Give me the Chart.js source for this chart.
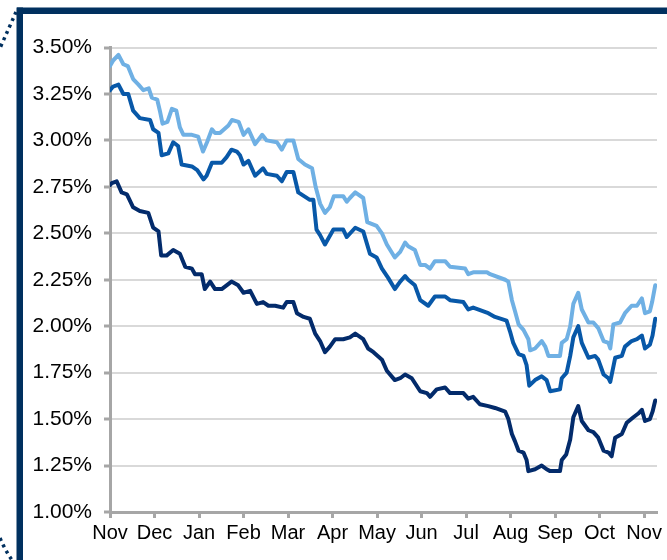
<!DOCTYPE html>
<html>
<head>
<meta charset="utf-8">
<script src="https://cdn.jsdelivr.net/npm/chart.js@4"></script>
<style>
  html, body { margin: 0; padding: 0; background: #fff; }
  #wrap { width: 667px; height: 560px; position: relative; }
</style>
</head>
<body>
<div id="wrap"><canvas id="chart"></canvas></div>
<script>
'use strict';

// month ticks, Nov through the following Nov
const monthLabels = ['Nov', 'Dec', 'Jan', 'Feb', 'Mar', 'Apr', 'May', 'Jun', 'Jul', 'Aug', 'Sep', 'Oct', 'Nov'];
const rateTicks = [1.00, 1.25, 1.50, 1.75, 2.00, 2.25, 2.50, 2.75, 3.00, 3.25, 3.50];

// light blue series: time in months since start, rate in %
const lightMonths = [0, 0.07, 0.19, 0.30, 0.40, 0.52, 0.64, 0.75, 0.87, 0.94, 1.06, 1.12, 1.18, 1.29, 1.39, 1.49, 1.57, 1.65, 1.84, 1.98,
  2.09, 2.18, 2.29, 2.36, 2.47, 2.66, 2.74, 2.89, 3.00, 3.11, 3.26, 3.42, 3.52, 3.75, 3.86, 3.97, 4.12, 4.23, 4.38, 4.54,
  4.62, 4.72, 4.83, 4.94, 5.03, 5.24, 5.32, 5.39, 5.51, 5.69, 5.78, 5.99, 6.11, 6.22, 6.40, 6.52, 6.63, 6.70, 6.85, 6.97,
  7.08, 7.19, 7.30, 7.53, 7.64, 7.98, 8.05, 8.16, 8.47, 8.54, 8.88, 8.95, 9.03, 9.10, 9.18, 9.29, 9.40, 9.44, 9.55, 9.70,
  9.78, 9.85, 10.11, 10.15, 10.26, 10.34, 10.41, 10.52, 10.60, 10.75, 10.86, 10.97, 11.09, 11.20, 11.24, 11.31, 11.46, 11.57, 11.72, 11.84,
  11.95, 12.02, 12.13, 12.18, 12.25];
const lightRates = [3.40, 3.43, 3.46, 3.41, 3.40, 3.33, 3.30, 3.27, 3.28, 3.23, 3.22, 3.16, 3.09, 3.10, 3.17, 3.16, 3.07, 3.03, 3.03, 3.02,
  2.94, 2.99, 3.06, 3.04, 3.04, 3.08, 3.11, 3.10, 3.03, 3.06, 2.98, 3.03, 3.00, 2.99, 2.95, 3.00, 3.00, 2.90, 2.87, 2.85,
  2.75, 2.66, 2.61, 2.64, 2.70, 2.70, 2.67, 2.69, 2.72, 2.69, 2.56, 2.54, 2.50, 2.44, 2.37, 2.40, 2.45, 2.43, 2.41, 2.33,
  2.33, 2.31, 2.35, 2.35, 2.32, 2.31, 2.28, 2.29, 2.29, 2.28, 2.25, 2.24, 2.14, 2.08, 2.01, 1.98, 1.93, 1.87, 1.88, 1.92,
  1.89, 1.84, 1.84, 1.91, 1.93, 2.00, 2.12, 2.18, 2.09, 2.02, 2.02, 1.99, 1.92, 1.91, 1.88, 2.01, 2.02, 2.07, 2.11, 2.11,
  2.15, 2.07, 2.08, 2.13, 2.22];

// mid blue series
const midMonths = [0, 0.07, 0.19, 0.30, 0.41, 0.52, 0.67, 0.90, 0.97, 1.09, 1.16, 1.31, 1.42, 1.53, 1.61, 1.84, 1.96, 2.10, 2.17, 2.29,
  2.51, 2.62, 2.73, 2.85, 2.92, 3.00, 3.11, 3.26, 3.44, 3.52, 3.75, 3.86, 3.97, 4.12, 4.23, 4.49, 4.57, 4.64, 4.72, 4.83,
  5.02, 5.24, 5.32, 5.51, 5.69, 5.84, 5.99, 6.11, 6.25, 6.40, 6.52, 6.63, 6.70, 6.85, 6.97, 7.15, 7.30, 7.53, 7.64, 7.94,
  8.05, 8.16, 8.50, 8.65, 8.91, 8.99, 9.06, 9.18, 9.29, 9.36, 9.42, 9.55, 9.70, 9.81, 9.89, 10.11, 10.15, 10.26, 10.34, 10.41,
  10.52, 10.60, 10.75, 10.90, 10.97, 11.09, 11.20, 11.24, 11.35, 11.50, 11.57, 11.72, 11.84, 11.95, 12.02, 12.13, 12.19, 12.25];
const midRates = [3.27, 3.29, 3.30, 3.25, 3.25, 3.16, 3.12, 3.11, 3.06, 3.04, 2.92, 2.93, 2.99, 2.97, 2.87, 2.86, 2.84, 2.79, 2.81, 2.88,
  2.88, 2.91, 2.95, 2.94, 2.92, 2.87, 2.89, 2.81, 2.85, 2.82, 2.81, 2.78, 2.83, 2.83, 2.72, 2.68, 2.68, 2.52, 2.49, 2.44,
  2.52, 2.52, 2.48, 2.53, 2.51, 2.39, 2.37, 2.31, 2.26, 2.20, 2.24, 2.27, 2.25, 2.22, 2.14, 2.11, 2.16, 2.16, 2.14, 2.13,
  2.09, 2.10, 2.07, 2.05, 2.03, 1.97, 1.91, 1.85, 1.84, 1.79, 1.68, 1.71, 1.73, 1.71, 1.65, 1.66, 1.72, 1.75, 1.84, 1.94,
  2.00, 1.91, 1.83, 1.84, 1.82, 1.74, 1.72, 1.70, 1.83, 1.84, 1.89, 1.92, 1.93, 1.95, 1.88, 1.90, 1.95, 2.04];

// dark navy series
const darkMonths = [0, 0.04, 0.15, 0.26, 0.38, 0.52, 0.67, 0.86, 0.97, 1.09, 1.15, 1.27, 1.42, 1.57, 1.69, 1.84, 1.91, 2.06, 2.13, 2.25,
  2.36, 2.51, 2.73, 2.88, 3.00, 3.15, 3.30, 3.44, 3.56, 3.71, 3.89, 3.97, 4.12, 4.20, 4.35, 4.49, 4.61, 4.72, 4.83, 4.94,
  5.06, 5.24, 5.39, 5.51, 5.69, 5.80, 5.92, 6.11, 6.22, 6.40, 6.52, 6.63, 6.78, 6.97, 7.12, 7.19, 7.34, 7.53, 7.64, 7.94,
  8.05, 8.16, 8.31, 8.50, 8.65, 8.88, 8.95, 9.03, 9.10, 9.18, 9.29, 9.36, 9.40, 9.55, 9.70, 9.81, 9.89, 10.11, 10.15, 10.25,
  10.34, 10.41, 10.52, 10.60, 10.75, 10.86, 10.97, 11.09, 11.20, 11.27, 11.35, 11.50, 11.61, 11.76, 11.87, 11.95, 12.02, 12.13, 12.19, 12.25];
const darkRates = [2.76, 2.77, 2.78, 2.72, 2.71, 2.64, 2.62, 2.61, 2.53, 2.51, 2.38, 2.38, 2.41, 2.39, 2.32, 2.31, 2.28, 2.28, 2.20, 2.24,
  2.20, 2.20, 2.24, 2.22, 2.18, 2.19, 2.12, 2.13, 2.11, 2.11, 2.10, 2.13, 2.13, 2.07, 2.05, 2.04, 1.96, 1.92, 1.86, 1.89,
  1.93, 1.93, 1.94, 1.96, 1.93, 1.88, 1.86, 1.82, 1.76, 1.71, 1.72, 1.74, 1.72, 1.65, 1.64, 1.62, 1.66, 1.67, 1.64, 1.64,
  1.61, 1.62, 1.58, 1.57, 1.56, 1.54, 1.50, 1.42, 1.38, 1.33, 1.32, 1.28, 1.22, 1.23, 1.25, 1.23, 1.22, 1.22, 1.28, 1.31,
  1.39, 1.51, 1.57, 1.49, 1.44, 1.43, 1.40, 1.33, 1.32, 1.30, 1.40, 1.42, 1.48, 1.51, 1.53, 1.55, 1.49, 1.50, 1.54, 1.60];

function toPoints(months, rates) {
  return months.map((m, i) => ({ x: m, y: rates[i] }));
}

// navy frame + dotted corner bits behind the chart
const framePlugin = {
  id: 'frame',
  beforeDraw(chart) {
    const ctx = chart.ctx;
    ctx.save();
    ctx.fillStyle = '#fff';
    ctx.fillRect(0, 0, chart.width, chart.height);
    ctx.fillStyle = '#00305f';
    ctx.fillRect(17, 7.5, 650, 6.5);
    ctx.fillRect(16.5, 7.5, 6.5, 553);
    ctx.strokeStyle = '#00305f';
    ctx.lineWidth = 3.5;
    ctx.setLineDash([3, 4]);
    ctx.beginPath();
    ctx.moveTo(16, 12);
    ctx.quadraticCurveTo(9, 28, 0, 48);
    ctx.stroke();
    ctx.beginPath();
    ctx.moveTo(0, 538);
    ctx.quadraticCurveTo(5, 550, 12, 560);
    ctx.stroke();
    ctx.restore();
  }
};

Chart.defaults.font.family = '"Liberation Sans", Arial, sans-serif';
Chart.defaults.font.size = 20;
Chart.defaults.color = '#000';

function renderChart() {
  const canvasElem = document.getElementById('chart');
  const lineStyle = { borderWidth: 4, pointRadius: 0, tension: 0, borderJoinStyle: 'round', borderCapStyle: 'round' };
  const chartConfig = {
    type: 'line',
    data: {
      datasets: [
        Object.assign({ label: 'Series 1', data: toPoints(lightMonths, lightRates), borderColor: '#6fb0e4' }, lineStyle),
        Object.assign({ label: 'Series 2', data: toPoints(midMonths, midRates), borderColor: '#0858a8' }, lineStyle),
        Object.assign({ label: 'Series 3', data: toPoints(darkMonths, darkRates), borderColor: '#032b6b' }, lineStyle),
      ]
    },
    options: {
      responsive: true,
      maintainAspectRatio: false,
      animation: false,
      layout: { padding: { top: 47.5, right: 10, bottom: 0, left: 0 } },
      plugins: {
        legend: { display: false },
        tooltip: { enabled: false },
      },
      scales: {
        x: {
          type: 'linear',
          min: 0,
          max: 12.29,
          afterBuildTicks: (scale) => { scale.ticks = monthLabels.map((l, i) => ({ value: i })); },
          afterFit: (scale) => { scale.height = 48; },
          ticks: {
            callback: (v) => monthLabels[v],
            autoSkip: false,
            maxRotation: 0,
            padding: 3,
          },
          grid: {
            drawOnChartArea: false,
            tickLength: 6,
            tickColor: '#a6a6a6',
            tickWidth: 3,
          },
          border: { color: '#a6a6a6', width: 3 },
        },
        y: {
          min: 1,
          max: 3.5,
          afterBuildTicks: (scale) => { scale.ticks = rateTicks.map((v) => ({ value: v })); },
          afterFit: (scale) => { scale.width = 110; },
          ticks: {
            callback: (v) => v.toFixed(2) + '%',
            padding: 12,
            font: { size: 21 },
          },
          grid: {
            color: '#d9d9d9',
            lineWidth: 2,
            tickLength: 6,
            tickColor: '#a6a6a6',
            tickWidth: 3,
          },
          border: { color: '#a6a6a6', width: 3 },
        },
      }
    },
    plugins: [framePlugin],
  };
  new Chart(canvasElem, chartConfig);
}

renderChart();
</script>
</body>
</html>
